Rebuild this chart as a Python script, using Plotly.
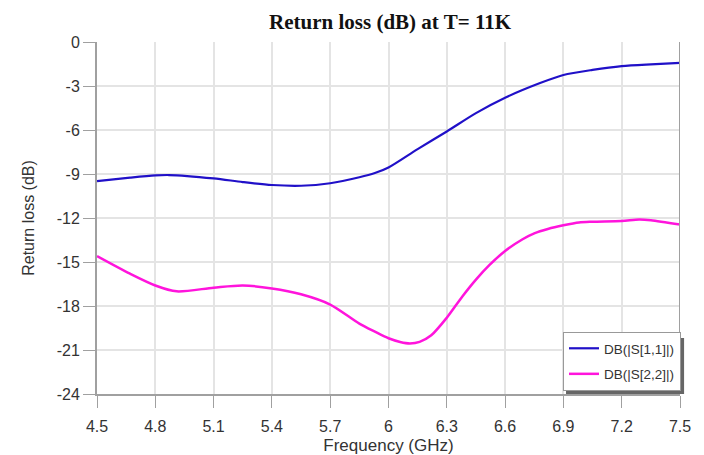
import plotly.graph_objects as go

freq_s11 = [4.5, 4.67, 4.8, 4.87, 5.1, 5.25, 5.4, 5.55, 5.7, 5.85, 5.93, 6.0, 6.15, 6.3, 6.45, 6.6, 6.78, 6.9, 7.05, 7.2, 7.35, 7.5]
s11 = [-9.48, -9.25, -9.1, -9.07, -9.3, -9.55, -9.75, -9.8, -9.63, -9.22, -8.93, -8.55, -7.3, -6.1, -4.85, -3.8, -2.8, -2.25, -1.9, -1.64, -1.52, -1.43]

freq_s22 = [4.5, 4.67, 4.8, 4.91, 5.1, 5.25, 5.4, 5.55, 5.7, 5.85, 5.93, 6.0, 6.06, 6.11, 6.16, 6.22, 6.3, 6.38, 6.45, 6.52, 6.6, 6.69, 6.75, 6.82, 6.9, 6.98, 7.05, 7.2, 7.29, 7.35, 7.5]
s22 = [-14.6, -15.8, -16.6, -17.0, -16.75, -16.6, -16.8, -17.2, -17.9, -19.2, -19.75, -20.2, -20.45, -20.55, -20.45, -20.0, -18.8, -17.35, -16.2, -15.2, -14.25, -13.45, -13.05, -12.75, -12.5, -12.3, -12.25, -12.2, -12.1, -12.15, -12.45]

x_ticks = [4.5, 4.8, 5.1, 5.4, 5.7, 6.0, 6.3, 6.6, 6.9, 7.2, 7.5]
x_tick_labels = ["4.5", "4.8", "5.1", "5.4", "5.7", "6", "6.3", "6.6", "6.9", "7.2", "7.5"]
y_ticks = [0, -3, -6, -9, -12, -15, -18, -21, -24]
y_tick_labels = ["0", "-3", "-6", "-9", "-12", "-15", "-18", "-21", "-24"]

fig = go.Figure()
fig.add_trace(go.Scatter(x=freq_s11, y=s11, mode="lines", name="DB(|S[1,1]|)", legendgroup="a",
                         line=dict(color="#2010c8", width=2.2, shape="spline", smoothing=0.8)))
fig.add_trace(go.Scatter(x=freq_s22, y=s22, mode="lines", name="DB(|S[2,2]|)", legendgroup="b",
                         line=dict(color="#ff14dc", width=2.5, shape="spline", smoothing=0.8)))

font_family = "Arial, Liberation Sans"
axis_common = dict(showgrid=True, gridcolor="#e4e4e4", gridwidth=2,
                   showline=True, linecolor="#a0a0a0", linewidth=2, mirror=False,
                   ticks="outside", ticklen=12, tickcolor="#a0a0a0", tickwidth=1,
                   tickfont=dict(family=font_family, size=16, color="#333"),
                   zeroline=False, automargin=False)

fig.update_xaxes(range=[4.5, 7.5], tickvals=x_ticks, ticktext=x_tick_labels, ticklabelstandoff=5,
                 title=dict(text="Frequency (GHz)", font=dict(family=font_family, size=17, color="#333"), standoff=5),
                 **axis_common)
fig.update_yaxes(range=[-24, 0], tickvals=y_ticks, ticktext=y_tick_labels,
                 title=dict(text="Return loss (dB)", font=dict(family=font_family, size=16, color="#333"), standoff=18),
                 **axis_common)

# right border line
fig.add_shape(type="line", xref="x", yref="paper", x0=7.5, x1=7.5, y0=0, y1=1,
              line=dict(color="#a0a0a0", width=2))
# legend shadow
fig.add_shape(type="rect", xref="paper", yref="paper", x0=0.8045, x1=1.007, y0=0.0, y1=0.159,
              line=dict(width=0), fillcolor="#666666", layer="above")

fig.update_layout(
    width=696, height=447,
    margin=dict(l=89, r=24, t=34, b=61),
    paper_bgcolor="white", plot_bgcolor="white",
    title=dict(text="<b>Return loss (dB) at T= 11K</b>", x=0.549, xanchor="center", y=0.969, yanchor="middle",
               font=dict(family="Times New Roman, Liberation Serif", size=21, color="#111")),
    legend=dict(x=1.0017, y=0.0085, xanchor="right", yanchor="bottom",
                bgcolor="white", bordercolor="#999", borderwidth=1,
                font=dict(family=font_family, size=13.5, color="#333"),
                itemwidth=30, tracegroupgap=5),
    showlegend=True,
)

fig.write_html("out.html")
